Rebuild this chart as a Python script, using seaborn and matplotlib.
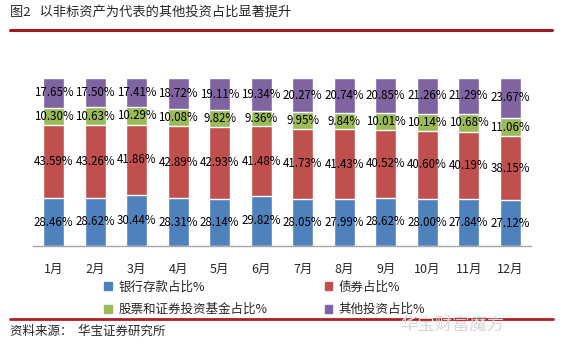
import numpy as np
import pandas as pd
import seaborn as sns
import matplotlib.pyplot as plt
from matplotlib.patches import Patch
from matplotlib.lines import Line2D

# 数据
months = ['1月', '2月', '3月', '4月', '5月', '6月', '7月', '8月', '9月', '10月', '11月', '12月']
bank = [28.46, 28.62, 30.44, 28.31, 28.14, 29.82, 28.05, 27.99, 28.62, 28.00, 27.84, 27.12]
bond = [43.59, 43.26, 41.86, 42.89, 42.93, 41.48, 41.73, 41.43, 40.52, 40.60, 40.19, 38.15]
stock = [10.30, 10.63, 10.29, 10.08, 9.82, 9.36, 9.95, 9.84, 10.01, 10.14, 10.68, 11.06]
other = [17.65, 17.50, 17.41, 18.72, 19.11, 19.34, 20.27, 20.74, 20.85, 21.26, 21.29, 23.67]
names = ['银行存款占比%', '债券占比%', '股票和证券投资基金占比%', '其他投资占比%']
colors = ['#4F81BD', '#C0504D', '#9BBB59', '#8064A2']

sns.set_style('white')
plt.rcParams['font.family'] = ['Noto Sans CJK SC', 'DejaVu Sans']

series = [bank, bond, stock, other]
cum = np.cumsum(np.array(series), axis=0)

fig = plt.figure(figsize=(5.61, 3.51), dpi=100)
ax = fig.add_axes([0.0588, 0.2991, 0.8877, 0.4786])

# 堆叠柱：从最上层开始画累计值
for k in range(3, -1, -1):
    df = pd.DataFrame({'month': months, 'v': cum[k]})
    sns.barplot(data=df, x='month', y='v', color=colors[k], width=0.5,
                saturation=1, ax=ax, order=months)

# 数据标签
for k in range(4):
    for i in range(len(months)):
        mid = cum[k][i] - series[k][i] / 2
        ax.text(i, mid, f'{series[k][i]:.2f}%', ha='center', va='center',
                fontsize=8.3, color='black')

ax.set_xlim(-0.5, 11.5)
ax.set_ylim(0, 100)
ax.set_xlabel('')
ax.set_ylabel('')
ax.set_yticks([])
for s in ['top', 'right', 'left']:
    ax.spines[s].set_visible(False)
ax.spines['bottom'].set_color('#A6A6A6')
ax.spines['bottom'].set_linewidth(1)
ax.tick_params(axis='x', length=0, pad=12, labelsize=9)

# 图例
handles = [Patch(color=colors[0], label=names[0]),
           Patch(color=colors[2], label=names[2]),
           Patch(color=colors[1], label=names[1]),
           Patch(color=colors[3], label=names[3])]
fig.legend(handles=handles, ncol=2, loc='upper left', bbox_to_anchor=(0.175, 0.218),
           frameon=False, fontsize=9, handlelength=0.6, handleheight=0.6,
           handletextpad=0.5, columnspacing=4.6, labelspacing=0.75, borderpad=0)

# 标题与红线
fig.text(0.018, 0.965, '图2   以非标资产为代表的其他投资占比显著提升', fontsize=9.5,
         ha='left', va='center')
fig.add_artist(Line2D([0.018, 0.984], [0.915, 0.915], color='#9E1B20', linewidth=2.2))
fig.add_artist(Line2D([0.018, 0.986], [0.091, 0.091], color='#B01E23', linewidth=2))
fig.text(0.018, 0.057, '资料来源：  华宝证券研究所', fontsize=9, ha='left', va='center')
fig.text(0.9, 0.075, '华宝财富魔方', fontsize=12.5, ha='right', va='center', color='#D6D6D6')

plt.savefig('out.png', dpi=100)
